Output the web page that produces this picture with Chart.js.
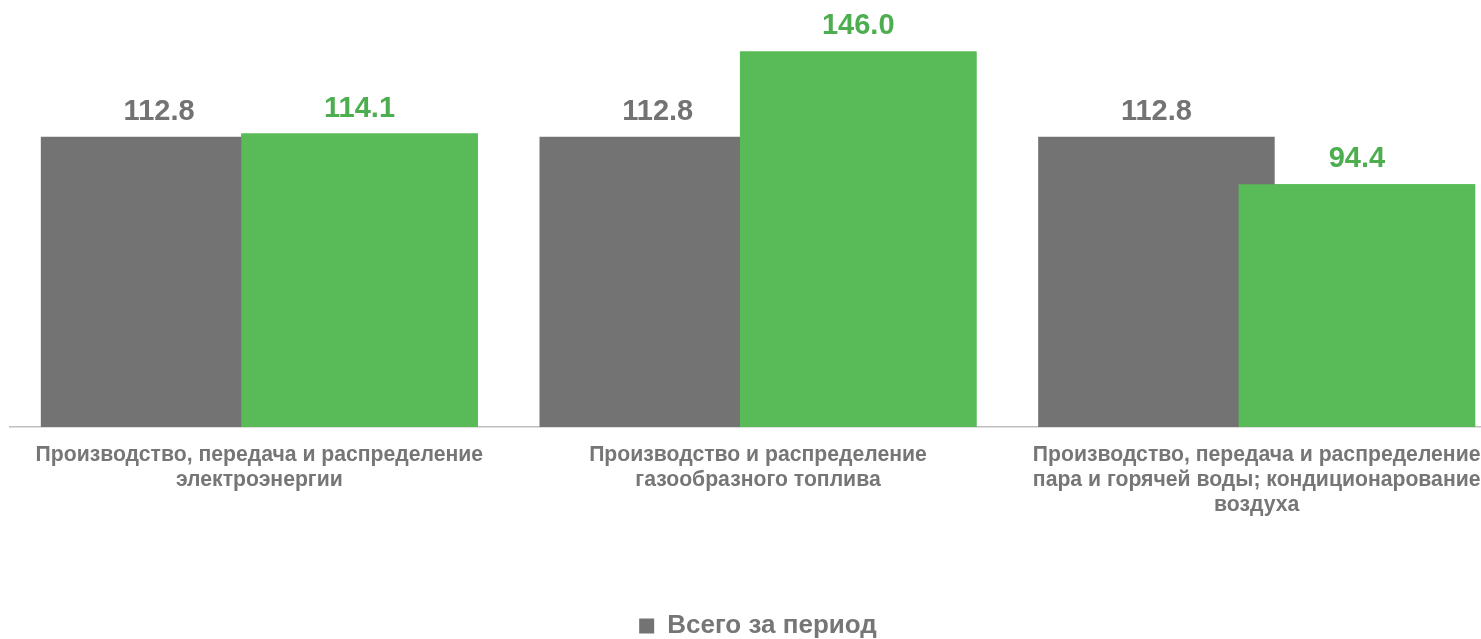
<!DOCTYPE html>
<html>
<head>
<meta charset="utf-8">
<script src="https://cdn.jsdelivr.net/npm/chart.js@4/dist/chart.umd.min.js"></script>
<style>
    html, body { margin: 0; padding: 0; background: #fff; overflow: hidden; }
    .chart-container { position: relative; width: 1516px; height: 639px; }
</style>
</head>
<body>
<div class="chart-container"><canvas id="energyChart"></canvas></div>
<script>
const categories = [
    ["Производство, передача и распределение", "электроэнергии"],
    ["Производство и распределение", "газообразного топлива"],
    ["Производство, передача и распределение", "пара и горячей воды; кондиционарование", "воздуха"],
];
const totalLabel = "Всего за период";
const totalValues = [112.8, 112.8, 112.8];
const sectorValues = [114.1, 146.0, 94.4];

const gray = "#737373";
const green = "#58BB58";
const greenText = "#4DAE4F";

// bar labels drawn above each bar; green set redrawn so it sits over the gray one
const topLabels = {
    id: "topLabels",
    afterDatasetsDraw(chart) {
        const ctx = chart.ctx;
        chart.getDatasetMeta(1).controller.draw();
        ctx.save();
        ctx.font = "bold 29px 'Liberation Sans', Arial, sans-serif";
        ctx.textAlign = "center";
        ctx.textBaseline = "alphabetic";
        chart.data.datasets.forEach((ds, i) => {
            const meta = chart.getDatasetMeta(i);
            ctx.fillStyle = i === 0 ? gray : greenText;
            meta.data.forEach((bar, j) => {
                ctx.fillText(ds.data[j].toFixed(1), bar.x, bar.y - 17);
            });
        });
        ctx.restore();
    },
};

new Chart(document.getElementById("energyChart").getContext("2d"), {
    type: "bar",
    data: {
        labels: categories,
        datasets: [{
            label: totalLabel,
            data: totalValues,
            backgroundColor: gray,
            borderWidth: 0,
        }, {
            label: "",
            data: sectorValues,
            backgroundColor: green,
            borderWidth: 0,
        }],
    },
    options: {
        responsive: true,
        maintainAspectRatio: false,
        animation: false,
        categoryPercentage: 0.804,
        barPercentage: 1.18,
        layout: { padding: { left: 10, right: 10, top: 0, bottom: -10 } },
        scales: {
            x: {
                grid: { display: true, drawOnChartArea: false, drawTicks: false },
                border: { display: true, color: "#BFBFBF", width: 1.5 },
                ticks: {
                    color: "#767676",
                    padding: 15,
                    maxRotation: 0,
                    autoSkip: false,
                    font: { family: "'Liberation Sans', Arial, sans-serif", size: 21.2, weight: "bold", lineHeight: 1.2 },
                },
                afterFit: (s) => { s.height = 183; },
            },
            y: {
                display: false,
                min: 0,
                max: 166,
            },
        },
        plugins: {
            tooltip: { enabled: false },
            legend: {
                position: "bottom",
                labels: {
                    filter: (item) => item.datasetIndex === 0,
                    color: "#767676",
                    boxWidth: 15,
                    boxHeight: 15,
                    padding: 3,
                    font: { family: "'Liberation Sans', Arial, sans-serif", size: 26, weight: "bold" },
                },
            },
        },
    },
    plugins: [topLabels],
});
</script>
</body>
</html>
